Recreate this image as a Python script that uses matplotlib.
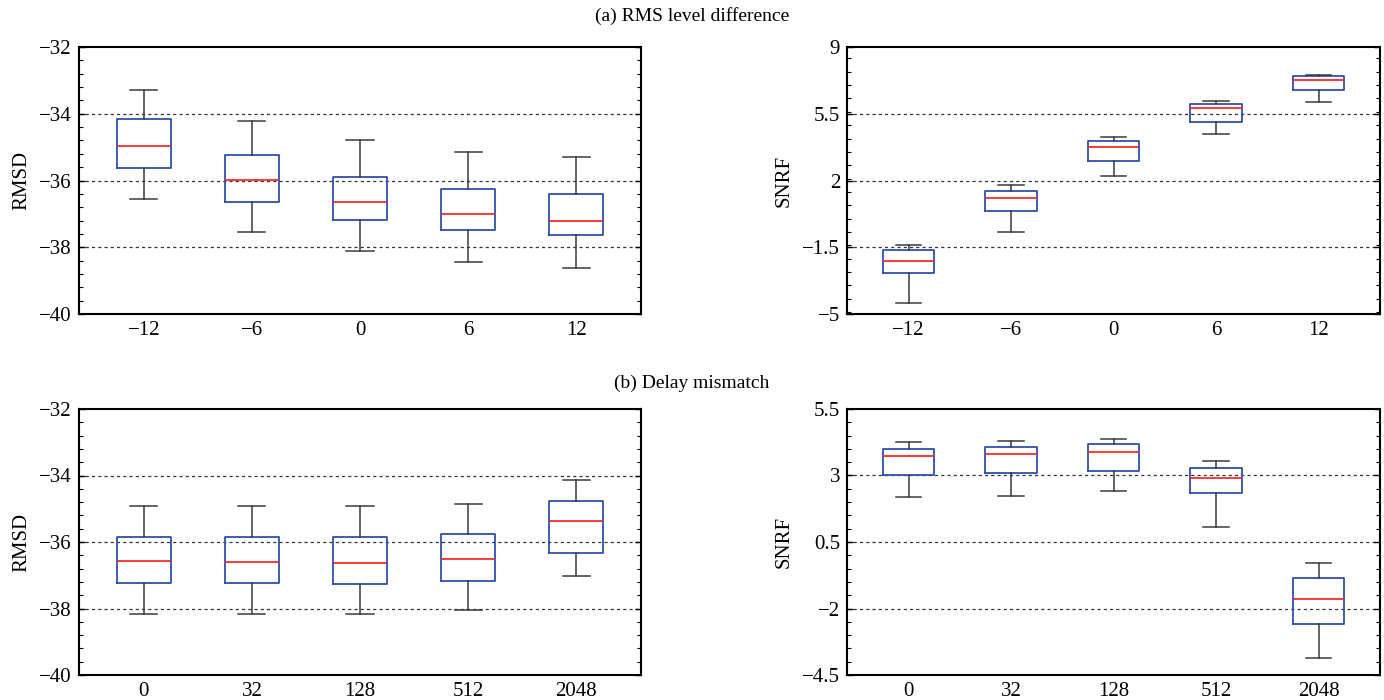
import numpy as np
import matplotlib
matplotlib.use("Agg")
import matplotlib.pyplot as plt
from matplotlib.ticker import FixedLocator, MultipleLocator, FuncFormatter

plt.rcParams.update({
    "font.family": "serif",
    "font.serif": ["Liberation Serif", "DejaVu Serif"],
    "font.size": 15,
    "axes.linewidth": 1.5,
    "axes.unicode_minus": True,
})

# (a) RMS level difference, x = level difference in dB
level_labels = ["-12", "-6", "0", "6", "12"]
rmsd_a_lo = [-36.55, -37.54, -38.12, -38.45, -38.61]
rmsd_a_q1 = [-35.64, -36.63, -37.17, -37.47, -37.62]
rmsd_a_med = [-34.96, -35.99, -36.63, -37.00, -37.21]
rmsd_a_q3 = [-34.16, -35.24, -35.89, -36.24, -36.40]
rmsd_a_hi = [-33.29, -34.22, -34.80, -35.15, -35.31]

snrf_a_lo = [-4.44, -0.70, 2.23, 4.42, 6.09]
snrf_a_q1 = [-2.84, 0.39, 3.04, 5.07, 6.77]
snrf_a_med = [-2.23, 1.09, 3.77, 5.82, 7.26]
snrf_a_q3 = [-1.67, 1.47, 4.05, 6.02, 7.46]
snrf_a_hi = [-1.40, 1.74, 4.26, 6.18, 7.53]

# (b) Delay mismatch, x = delay in samples
delay_labels = ["0", "32", "128", "512", "2048"]
rmsd_b_lo = [-38.16, -38.16, -38.17, -38.05, -37.01]
rmsd_b_q1 = [-37.23, -37.24, -37.25, -37.18, -36.34]
rmsd_b_med = [-36.58, -36.60, -36.62, -36.50, -35.37]
rmsd_b_q3 = [-35.84, -35.85, -35.86, -35.76, -34.76]
rmsd_b_hi = [-34.92, -34.92, -34.93, -34.87, -34.13]

snrf_b_lo = [2.19, 2.24, 2.40, 1.06, -3.85]
snrf_b_q1 = [3.01, 3.09, 3.18, 2.33, -2.60]
snrf_b_med = [3.74, 3.79, 3.89, 2.91, -1.63]
snrf_b_q3 = [4.01, 4.08, 4.18, 3.30, -0.86]
snrf_b_hi = [4.25, 4.30, 4.38, 3.53, -0.30]

BLUE = "#2f4fae"
RED = "#ff2a2a"
WHISK = "#3a3a3a"


def fmt_num(v, pos=None):
    s = "%g" % round(v, 3)
    return s.replace("-", "\u2212")


def panel(ax, lo, q1, med, q3, hi, xlabels, yticks, minor, ylabel):
    stats = [dict(whislo=a, q1=b, med=c, q3=d, whishi=e, fliers=[])
             for a, b, c, d, e in zip(lo, q1, med, q3, hi)]
    ax.bxp(stats, positions=range(1, len(stats) + 1), widths=0.5,
           capwidths=0.25, showfliers=False,
           boxprops=dict(color=BLUE, lw=1.3),
           medianprops=dict(color=RED, lw=1.3),
           whiskerprops=dict(color=WHISK, lw=1.1, ls="-"),
           capprops=dict(color=WHISK, lw=1.1))
    ax.set_xlim(0.4, 5.6)
    ax.set_ylim(yticks[0], yticks[-1])
    ax.yaxis.set_major_locator(FixedLocator(yticks))
    ax.yaxis.set_minor_locator(MultipleLocator(minor))
    ax.yaxis.set_major_formatter(FuncFormatter(fmt_num))
    ax.set_xticks(range(1, len(xlabels) + 1))
    ax.set_xticklabels([t.replace("-", "\u2212") for t in xlabels])
    ax.tick_params(axis="x", length=0, pad=5, labelsize=15)
    ax.tick_params(axis="y", which="both", direction="in", left=True,
                   right=True, labelsize=15, pad=5)
    ax.tick_params(axis="y", which="major", length=4, width=1)
    ax.tick_params(axis="y", which="minor", length=3, width=0.8)
    for yv in yticks[1:-1]:
        ax.axhline(yv, color="#333333", lw=0.9, ls=(0, (2.5, 2.5)), zorder=0)
    ax.set_ylabel(ylabel, fontsize=15, labelpad=6)


fig = plt.figure(figsize=(13.84, 7.0), dpi=100)
W, H = 1384.0, 700.0


def add_axes(x0, y0, x1, y1):
    return fig.add_axes([x0 / W, 1 - y1 / H, (x1 - x0) / W, (y1 - y0) / H])


ax1 = add_axes(79, 47, 641, 314)
ax2 = add_axes(847, 47, 1380, 314)
ax3 = add_axes(79, 409, 641, 675)
ax4 = add_axes(847, 409, 1380, 675)

panel(ax1, rmsd_a_lo, rmsd_a_q1, rmsd_a_med, rmsd_a_q3, rmsd_a_hi,
      level_labels, [-40, -38, -36, -34, -32], 0.4, "RMSD")
panel(ax2, snrf_a_lo, snrf_a_q1, snrf_a_med, snrf_a_q3, snrf_a_hi,
      level_labels, [-5, -1.5, 2, 5.5, 9], 0.7, "SNRF")
panel(ax3, rmsd_b_lo, rmsd_b_q1, rmsd_b_med, rmsd_b_q3, rmsd_b_hi,
      delay_labels, [-40, -38, -36, -34, -32], 0.4, "RMSD")
panel(ax4, snrf_b_lo, snrf_b_q1, snrf_b_med, snrf_b_q3, snrf_b_hi,
      delay_labels, [-4.5, -2, 0.5, 3, 5.5], 0.5, "SNRF")

fig.text(0.5, 1 - 16 / H, "(a) RMS level difference", ha="center",
         va="center", fontsize=14)
fig.text(0.5, 1 - 383 / H, "(b) Delay mismatch", ha="center",
         va="center", fontsize=14)

fig.savefig("out.png", dpi=100)
